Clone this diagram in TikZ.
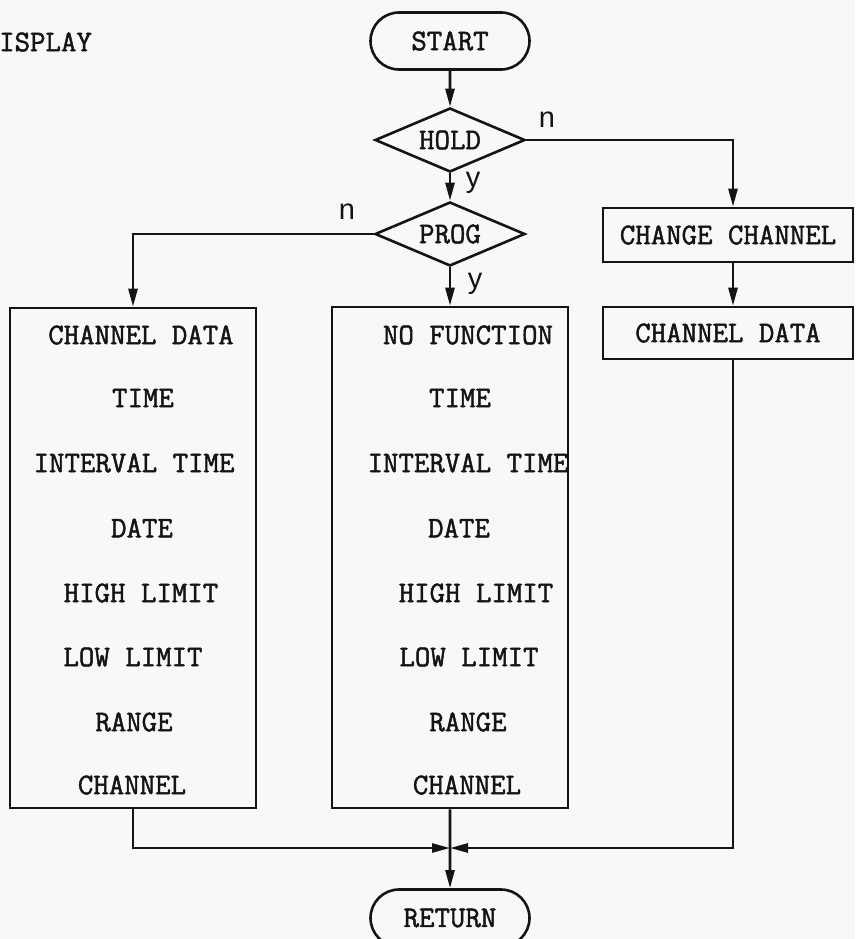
\documentclass[tikz,border=0pt]{standalone}
\usepackage{fontspec}
\setmonofont{Latin Modern Mono}[FakeBold=1.6]
\newfontfamily\ynfont{Liberation Sans}
\usetikzlibrary{arrows.meta,shapes.geometric,shapes.misc}

\definecolor{paper}{HTML}{F8F8F7}
\definecolor{ink}{HTML}{141414}

\tikzset{
  flow/.style={line width=2.6pt, draw=ink},
  arr/.style={flow, -{Triangle[length=18pt,width=9pt]}},
  txt/.style={font=\ttfamily\fontsize{30}{30}\selectfont, text=ink, inner sep=0pt},
  term/.style={txt, rounded rectangle, draw=ink, line width=2.6pt,
               minimum width=159pt, minimum height=57pt},
  decision/.style={txt, diamond, aspect=2.3, draw=ink, line width=2.6pt,
                   minimum width=150pt, minimum height=64pt},
  boxnode/.style={txt, rectangle, draw=ink, line width=2.6pt, minimum width=250pt},
  panel/.style={rectangle, draw=ink, line width=2.6pt, inner sep=0pt},
  yn/.style={font=\ynfont\fontsize{29}{29}\selectfont, text=ink, inner sep=0pt}
}

\begin{document}
\begin{tikzpicture}[x=1pt,y=-1pt]
  % page
  \fill[paper] (0,0) rectangle (855,939);
  \useasboundingbox (0,0) rectangle (855,939);
  \clip (0,0) rectangle (855,939);

  % heading fragment
  \node[txt, anchor=west] (title) at (-1,42) {ISPLAY};

  % main column
  \node[term] (start) at (450,41) {START};
  \node[decision] (hold) at (450,140) {HOLD};
  \node[decision] (prog) at (450,234) {PROG};

  % right column
  \node[boxnode, minimum height=54pt] (chg) at (728,235) {CHANGE CHANNEL};
  \node[boxnode, minimum height=52pt] (cdata) at (728,333) {CHANNEL DATA};

  % display lists
  \node[panel, minimum width=246pt, minimum height=500pt] (left) at (133,558) {};
  \node[panel, minimum width=236pt, minimum height=501pt] (mid) at (450,557.5) {};

  \node[txt] (l1) at (141,335) {CHANNEL DATA};
  \node[txt] (l2) at (143,398) {TIME};
  \node[txt] (l3) at (134,463) {INTERVAL TIME};
  \node[txt] (l4) at (142,528) {DATE};
  \node[txt] (l5) at (141,593) {HIGH LIMIT};
  \node[txt] (l6) at (133,657) {LOW LIMIT};
  \node[txt] (l7) at (134,722) {RANGE};
  \node[txt] (l8) at (132,785) {CHANNEL};

  \node[txt] (m1) at (468,335) {NO FUNCTION};
  \node[txt] (m2) at (460,398) {TIME};
  \node[txt] (m3) at (468,463) {INTERVAL TIME};
  \node[txt] (m4) at (459,528) {DATE};
  \node[txt] (m5) at (476,593) {HIGH LIMIT};
  \node[txt] (m6) at (469,657) {LOW LIMIT};
  \node[txt] (m7) at (468,722) {RANGE};
  \node[txt] (m8) at (467,785) {CHANNEL};

  \node[term] (ret) at (450,918) {RETURN};

  % branch labels
  \node[yn] (holdn) at (547,120) {n};
  \node[yn] (holdy) at (473,183) {y};
  \node[yn] (progn) at (347,212) {n};
  \node[yn] (progy) at (475,284) {y};

  % routing points
  \coordinate (rx) at (733,0);
  \coordinate (join) at (450,848);

  % connectors
  \draw[arr] (start) -- (hold);
  \draw[arr] (hold) -- (prog);
  \draw[arr] (hold.east) -| (rx |- chg.north);
  \draw[arr] (rx |- chg.south) -- (rx |- cdata.north);
  \draw[arr] (rx |- cdata.south) |- (join);
  \draw[arr] (prog.west) -| (left.north);
  \draw[arr] (prog) -- (mid);
  \draw[arr] (left.south) |- (join);
  \draw[arr] (mid) -- (ret);
\end{tikzpicture}
\end{document}
